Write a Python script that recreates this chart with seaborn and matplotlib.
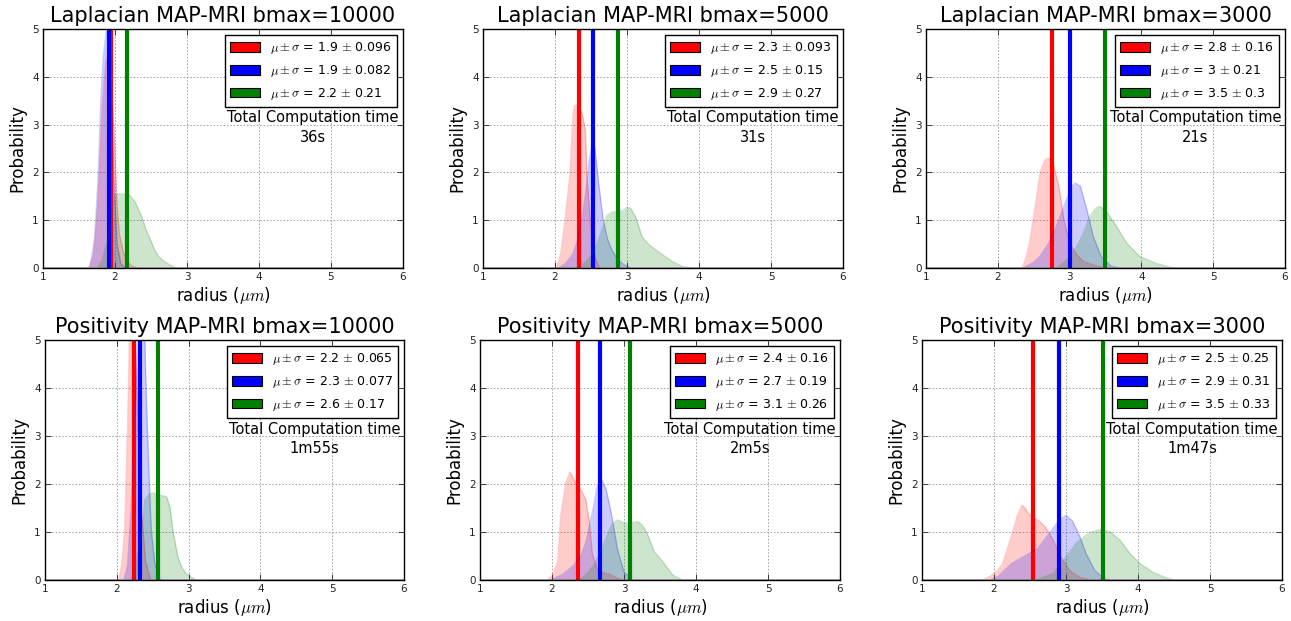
import numpy as np
import pandas as pd
import matplotlib
matplotlib.use("Agg")
import matplotlib.pyplot as plt
from matplotlib.patches import Patch
import seaborn as sns

# ---- data ----
METHODS = ["Laplacian", "Positivity"]
BMAX = [10000, 5000, 3000]
TIMES = ["36s", "31s", "21s", "1m55s", "2m5s", "1m47s"]
COLORS = ["#ff0000", "#0000ff", "#008000"]

# mean radius (vertical lines), one row per panel: red, blue, green
MEANS = [
    [1.94, 1.92, 2.17],
    [2.34, 2.53, 2.88],
    [2.76, 3.01, 3.49],
    [2.24, 2.33, 2.58],
    [2.36, 2.66, 3.08],
    [2.54, 2.90, 3.52],
]
SIGMAS = [
    [0.096, 0.082, 0.21],
    [0.093, 0.15, 0.27],
    [0.16, 0.21, 0.3],
    [0.065, 0.077, 0.17],
    [0.16, 0.19, 0.26],
    [0.25, 0.31, 0.33],
]

# density curves (radius, probability)
lap10000_red = [(1.63, 0), (1.70, 0.25), (1.76, 1.3), (1.82, 3.2), (1.87, 4.3), (1.92, 4.6),
                (1.96, 3.6), (2.0, 2.4), (2.03, 1.28), (2.06, 0.72), (2.12, 0.31), (2.21, 0.07), (2.3, 0)]
lap10000_blue = [(1.65, 0), (1.72, 0.65), (1.77, 2.04), (1.80, 3.43), (1.84, 4.47), (1.88, 4.95),
                 (1.91, 4.8), (1.95, 3.4), (1.99, 1.6), (2.03, 0.5), (2.08, 0.1), (2.14, 0)]
lap10000_green = [(1.75, 0), (1.82, 0.15), (1.9, 0.6), (1.96, 1.2), (2.0, 1.55), (2.1, 1.55),
                  (2.2, 1.53), (2.28, 1.38), (2.37, 1.08), (2.43, 0.8), (2.49, 0.6), (2.55, 0.38),
                  (2.6, 0.25), (2.68, 0.14), (2.76, 0.07), (2.85, 0)]

lap5000_red = [(2.02, 0), (2.08, 0.3), (2.14, 1.0), (2.21, 2.0), (2.25, 3.2), (2.27, 3.4), (2.33, 3.42),
               (2.38, 3.2), (2.42, 2.9), (2.44, 2.0), (2.49, 1.0), (2.53, 0.45), (2.56, 0.2), (2.62, 0)]
lap5000_blue = [(2.05, 0), (2.15, 0.1), (2.25, 0.3), (2.32, 0.6), (2.38, 1.1), (2.42, 1.5), (2.47, 2.2),
                (2.52, 2.6), (2.55, 2.55), (2.6, 1.85), (2.67, 1.0), (2.73, 0.6), (2.79, 0.38),
                (2.86, 0.2), (2.93, 0.1), (3.05, 0)]
lap5000_green = [(2.32, 0), (2.45, 0.15), (2.56, 0.4), (2.65, 0.8), (2.72, 1.1), (2.79, 1.17),
                 (2.86, 1.17), (2.94, 1.2), (3.0, 1.27), (3.05, 1.25), (3.12, 1.07), (3.21, 0.65),
                 (3.3, 0.5), (3.4, 0.38), (3.52, 0.25), (3.63, 0.14), (3.77, 0.03), (3.9, 0)]

lap3000_red = [(2.34, 0), (2.4, 0.25), (2.45, 0.59), (2.52, 1.29), (2.59, 2.0), (2.66, 2.27),
               (2.71, 2.3), (2.78, 2.13), (2.85, 1.71), (2.92, 1.01), (2.97, 0.7), (3.03, 0.45),
               (3.1, 0.28), (3.19, 0.14), (3.38, 0.04), (3.5, 0)]
lap3000_blue = [(2.36, 0), (2.5, 0.12), (2.59, 0.25), (2.7, 0.5), (2.78, 0.74), (2.86, 1.05),
                (2.94, 1.37), (3.03, 1.71), (3.08, 1.78), (3.15, 1.71), (3.24, 1.22), (3.33, 0.66),
                (3.44, 0.24), (3.58, 0.04), (3.7, 0)]
lap3000_green = [(2.82, 0), (2.95, 0.15), (3.1, 0.45), (3.2, 0.75), (3.28, 1.08), (3.37, 1.26),
                 (3.42, 1.29), (3.51, 1.19), (3.65, 0.88), (3.79, 0.53), (3.97, 0.25), (4.2, 0.1),
                 (4.39, 0.02), (4.5, 0)]

pos10000_red = [(2.03, 0), (2.07, 0.34), (2.11, 1.04), (2.15, 3.15), (2.18, 5.3), (2.22, 5.8),
                (2.26, 5.0), (2.3, 3.0), (2.34, 1.5), (2.4, 0.4), (2.47, 0)]
pos10000_blue = [(2.1, 0), (2.15, 0.3), (2.2, 1.5), (2.25, 3.5), (2.3, 5.0), (2.35, 5.3), (2.39, 5.0),
                 (2.41, 3.85), (2.45, 2.1), (2.48, 1.04), (2.53, 0.34), (2.6, 0.02), (2.65, 0)]
pos10000_green = [(2.2, 0), (2.27, 0.3), (2.31, 0.7), (2.35, 1.04), (2.39, 1.67), (2.46, 1.8),
                  (2.51, 1.81), (2.62, 1.76), (2.69, 1.74), (2.74, 1.53), (2.78, 1.04), (2.85, 0.48),
                  (2.91, 0.25), (2.97, 0.13), (3.1, 0)]

pos5000_red = [(1.93, 0), (2.0, 0.08), (2.08, 0.38), (2.12, 1.32), (2.19, 2.02), (2.25, 2.25),
               (2.33, 2.02), (2.40, 1.89), (2.47, 1.67), (2.52, 1.18), (2.56, 0.55), (2.63, 0.23),
               (2.72, 0.15), (2.8, 0.12), (2.93, 0.02), (3.0, 0)]
pos5000_blue = [(1.98, 0), (2.15, 0.12), (2.29, 0.29), (2.4, 0.5), (2.47, 0.78), (2.56, 1.41),
                (2.63, 1.97), (2.68, 2.11), (2.75, 1.9), (2.82, 1.41), (2.91, 0.64), (3.0, 0.17), (3.12, 0)]
pos5000_green = [(2.38, 0), (2.5, 0.15), (2.61, 0.38), (2.75, 0.87), (2.84, 1.18), (2.91, 1.25),
                 (2.98, 1.2), (3.05, 1.18), (3.12, 1.2), (3.19, 1.22), (3.25, 1.15), (3.31, 1.01),
                 (3.42, 0.59), (3.54, 0.38), (3.68, 0.1), (3.81, 0)]

pos3000_red = [(1.84, 0), (1.95, 0.08), (2.05, 0.2), (2.12, 0.34), (2.24, 0.91), (2.33, 1.37),
               (2.39, 1.56), (2.43, 1.5), (2.47, 1.4), (2.54, 1.3), (2.63, 1.23), (2.72, 1.09),
               (2.82, 0.84), (2.93, 0.48), (3.05, 0.2), (3.19, 0.06), (3.33, 0)]
pos3000_blue = [(1.95, 0), (2.07, 0.09), (2.24, 0.34), (2.45, 0.52), (2.61, 0.66), (2.77, 0.98),
                (2.91, 1.26), (3.0, 1.35), (3.09, 1.23), (3.19, 0.91), (3.28, 0.55), (3.4, 0.2),
                (3.54, 0.02), (3.6, 0)]
pos3000_green = [(2.58, 0), (2.82, 0.13), (3.0, 0.48), (3.16, 0.8), (3.33, 0.99), (3.47, 1.05),
                 (3.61, 1.01), (3.75, 0.83), (3.89, 0.55), (4.03, 0.34), (4.21, 0.16), (4.4, 0.04), (4.5, 0)]

CURVES = [
    [lap10000_red, lap10000_blue, lap10000_green],
    [lap5000_red, lap5000_blue, lap5000_green],
    [lap3000_red, lap3000_blue, lap3000_green],
    [pos10000_red, pos10000_blue, pos10000_green],
    [pos5000_red, pos5000_blue, pos5000_green],
    [pos3000_red, pos3000_blue, pos3000_green],
]

XLIM = (1, 6)
YLIM = (0, 5)

# axes rectangles in pixels: left, right, top, bottom
W, H = 1291, 621
RECTS = [
    (43, 403, 29, 268), (483, 843, 29, 268), (926, 1285, 29, 268),
    (45, 404, 340, 580), (480, 840, 340, 580), (922, 1282, 340, 580),
]

sns.set_theme(style="white", color_codes=False, rc={
    "xtick.direction": "in", "ytick.direction": "in",
    "xtick.top": True, "ytick.right": True,
    "xtick.bottom": True, "ytick.left": True,
    "xtick.major.size": 4, "ytick.major.size": 4,
    "xtick.major.width": 0.6, "ytick.major.width": 0.6,
    "xtick.labelsize": 7.5, "ytick.labelsize": 7.5,
    "xtick.color": "#222222", "ytick.color": "#222222",
    "axes.edgecolor": "black", "axes.linewidth": 1.0,
    "axes.labelcolor": "black", "text.color": "black",
    "mathtext.fontset": "cm",
})
plt.rcParams["font.family"] = ["DejaVu Sans"]

fig = plt.figure(figsize=(W / 100, H / 100), dpi=100)

for i, (l, r, t, b) in enumerate(RECTS):
    ax = fig.add_axes([l / W, (H - b) / H, (r - l) / W, (b - t) / H])
    method = METHODS[i // 3]
    bmax = BMAX[i % 3]

    handles = []
    labels = []
    for curve, color, mu, sd in zip(CURVES[i], COLORS, MEANS[i], SIGMAS[i]):
        xs = [XLIM[0]] + [p[0] for p in curve] + [XLIM[1]]
        ys = [0] + [p[1] for p in curve] + [0]
        df = pd.DataFrame({"radius": xs, "prob": ys})
        sns.lineplot(data=df, x="radius", y="prob", color=color, alpha=0.2,
                     lw=1, sort=False, estimator=None, ax=ax)
        ax.fill_between(df["radius"], df["prob"], color=color, alpha=0.2, lw=0)
        ax.axvline(mu, color=color, lw=3)
        handles.append(Patch(facecolor=color, edgecolor="k", lw=0.8))
        labels.append(r"$\mu\pm\sigma$ = %.2g $\pm$ %.2g" % (mu, sd))

    ax.set_xlim(*XLIM)
    ax.set_ylim(*YLIM)
    ax.set_xticks(range(1, 7))
    ax.set_yticks(range(0, 6))
    ax.grid(True, color="0.6", linestyle=(0, (2, 2)), lw=0.6)
    ax.set_axisbelow(True)
    ax.tick_params(pad=3)
    ax.set_title(f"{method} MAP-MRI bmax={bmax}", fontsize=15, pad=5)
    ax.set_xlabel(r"radius ($\mu m$)", fontsize=12, labelpad=2)
    ax.set_ylabel("Probability", fontsize=12, labelpad=4)

    leg = ax.legend(handles, labels, loc="upper right", fontsize=9,
                    fancybox=False, framealpha=1, edgecolor="black",
                    borderaxespad=0.5, handlelength=2.4, handleheight=0.8,
                    labelspacing=0.55, borderpad=0.4)
    leg.get_frame().set_linewidth(1.0)

    ax.text(4.75, 2.94, f"Total Computation time\n{TIMES[i]}", fontsize=10.5,
            ha="center", va="center", multialignment="center", linespacing=1.35)

fig.savefig("out.png", dpi=100)
